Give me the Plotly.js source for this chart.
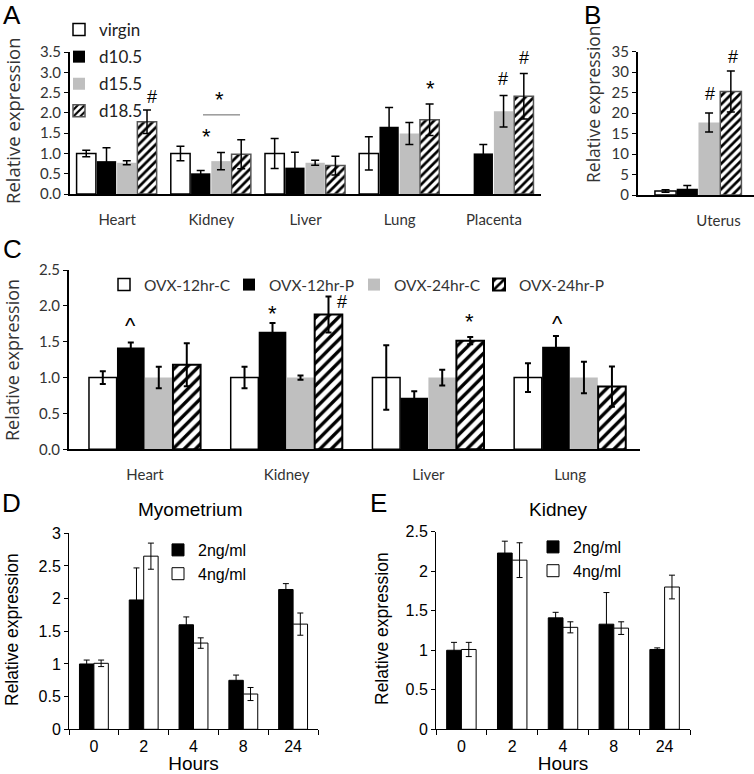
<!DOCTYPE html>
<html><head><meta charset="utf-8">
<script src="https://cdn.plot.ly/plotly-3.0.1.min.js"></script>
<style>html,body{margin:0;padding:0;background:#fff}#chart{width:754px;height:774px}</style>
</head><body><div id="chart"></div>
<script>
// ---------- Panel A ----------
const catsA = ['Heart', 'Kidney', 'Liver', 'Lung', 'Placenta'];
const virginA = [1.0, 1.0, 1.0, 1.0, null];
const virginErrA = [0.08, 0.18, 0.37, 0.41, null];
const d105A = [0.81, 0.51, 0.65, 1.66, 1.0];
const d105ErrA = [0.33, 0.07, 0.38, 0.47, 0.22];
const d155A = [0.77, 0.81, 0.77, 1.49, 2.04];
const d155ErrA = [0.05, 0.21, 0.06, 0.27, 0.39];
const d185A = [1.78, 0.98, 0.70, 1.83, 2.41];
const d185ErrA = [0.29, 0.36, 0.23, 0.39, 0.56];
const seriesA = ['virgin', 'd10.5', 'd15.5', 'd18.5'];

// ---------- Panel B ----------
const catsB = ['Uterus'];
const virginB = [1.0];
const virginErrB = [0.3];
const d105B = [1.5];
const d105ErrB = [0.8];
const d155B = [17.7];
const d155ErrB = [2.3];
const d185B = [25.3];
const d185ErrB = [5.0];

// ---------- Panel C ----------
const catsC = ['Heart', 'Kidney', 'Liver', 'Lung'];
const seriesC = ['OVX-12hr-C', 'OVX-12hr-P', 'OVX-24hr-C', 'OVX-24hr-P'];
const c12C = [1.0, 1.0, 1.0, 1.0];
const c12ErrC = [0.09, 0.15, 0.45, 0.2];
const p12C = [1.42, 1.64, 0.72, 1.43];
const p12ErrC = [0.07, 0.12, 0.09, 0.15];
const c24C = [1.0, 1.0, 1.0, 1.0];
const c24ErrC = [0.15, 0.03, 0.11, 0.22];
const p24C = [1.18, 1.88, 1.515, 0.875];
const p24ErrC = [0.3, 0.25, 0.05, 0.28];

// ---------- Panels D / E ----------
const hours = ['0', '2', '4', '8', '24'];
const seriesDE = ['2ng/ml', '4ng/ml'];
const twoD = [1.0, 1.98, 1.6, 0.75, 2.14];
const twoErrD = [0.06, 0.49, 0.12, 0.08, 0.09];
const fourD = [1.01, 2.65, 1.32, 0.54, 1.61];
const fourErrD = [0.05, 0.2, 0.08, 0.1, 0.17];
const twoE = [1.0, 2.23, 1.41, 1.33, 1.01];
const twoErrE = [0.1, 0.15, 0.07, 0.4, 0.02];
const fourE = [1.01, 2.14, 1.29, 1.28, 1.8];
const fourErrE = [0.09, 0.22, 0.07, 0.08, 0.15];

// ---------- helpers ----------
const W = 754, H = 774;
const fx = v => v / W;
const fy = v => 1 - v / H;
const TICKF = 'Lato, Carlito, sans-serif';
const TITLEF = '"Open Sans", "Noto Sans", sans-serif';
const ARIAL = '"Liberation Sans", Arial, sans-serif';
function err(arr, th, w) {
  return {type: 'data', array: arr, visible: true, color: '#000', thickness: th, width: w};
}
const hatchA = {shape: '/', fgcolor: '#000', bgcolor: '#fff', size: 6, solidity: 0.45};
const hatchC = {shape: '/', fgcolor: '#000', bgcolor: '#fff', size: 8, solidity: 0.42};

function bar(x, y, e, name, ax, w, off, marker, eth, ew, legend, show, grp) {
  return {type: 'bar', x: x, y: y, name: name, xaxis: 'x' + ax, yaxis: 'y' + ax,
    width: w, offset: off, marker: marker, error_y: err(e, eth, ew),
    legend: legend, legendgroup: grp || '', showlegend: show, hoverinfo: 'x+y+name'};
}
const mWhite = {color: '#fff', line: {color: '#000', width: 1.5}};
const mBlack = {color: '#000', line: {color: '#000', width: 0}};
const mGray = {color: '#bfbfbf', line: {color: '#bfbfbf', width: 0}};
const mHatchA = {color: '#fff', pattern: hatchA, line: {color: '#555', width: 1.5}};
const mHatchC = {color: '#fff', pattern: hatchC, line: {color: '#000', width: 2}};

const data = [];
// A
const wA = 0.205, sA = 0.215, oA = -0.43;
[[virginA, virginErrA, mWhite], [d105A, d105ErrA, mBlack], [d155A, d155ErrA, mGray], [d185A, d185ErrA, mHatchA]]
  .forEach((s, i) => data.push(bar(catsA, s[0], s[1], seriesA[i], '', wA, oA + i * sA, s[2], 1.5, 4, 'legend', true, 'a' + i)));
// B
const wB = 0.175, sB = 0.18, oB = -0.36;
[[virginB, virginErrB, mWhite], [d105B, d105ErrB, mBlack], [d155B, d155ErrB, mGray], [d185B, d185ErrB, mHatchA]]
  .forEach((s, i) => data.push(bar(catsB, s[0], s[1], seriesA[i], '2', wB, oB + i * sB, s[2], 1.5, 4, 'legend', false, 'a' + i)));
// C
const wC = 0.195, sC = 0.1975, oC = -0.395;
[[c12C, c12ErrC, mWhite], [p12C, p12ErrC, mBlack], [c24C, c24ErrC, mGray], [p24C, p24ErrC, mHatchC]]
  .forEach((s, i) => data.push(bar(catsC, s[0], s[1], seriesC[i], '3', wC, oC + i * sC, s[2], 2, 3, 'legend2', true)));
// D, E
const mWhiteThin = {color: '#fff', line: {color: '#000', width: 1}};
const mBlackThin = {color: '#000', line: {color: '#000', width: 1}};
data.push(bar(hours, twoD, twoErrD, seriesDE[0], '4', 0.29, -0.29, mBlackThin, 1, 3, 'legend3', true));
data.push(bar(hours, fourD, fourErrD, seriesDE[1], '4', 0.29, 0, mWhiteThin, 1, 3, 'legend3', true));
data.push(bar(hours, twoE, twoErrE, seriesDE[0], '5', 0.29, -0.29, mBlackThin, 1, 3, 'legend4', true));
data.push(bar(hours, fourE, fourErrE, seriesDE[1], '5', 0.29, 0, mWhiteThin, 1, 3, 'legend4', true));

function yax(anchor, dom, range, dtick, fmt, font, lw) {
  return {anchor: anchor, domain: dom, range: range, dtick: dtick, tickformat: fmt, showgrid: false, zeroline: false,
    showline: true, linecolor: '#000', linewidth: lw, ticks: 'outside', ticklen: 4, tickwidth: 1, tickcolor: '#000',
    tickfont: font, fixedrange: true};
}
function xcat(dom, range, anchor, font, standoff, lw, extra) {
  return Object.assign({domain: dom, range: range, type: 'category', anchor: anchor, showgrid: false, zeroline: false,
    showline: true, linecolor: '#000', linewidth: lw, ticks: '', tickfont: font, ticklabelstandoff: standoff,
    fixedrange: true}, extra || {});
}
const fontAC = {family: TICKF, size: 15, color: '#333'};
const fontDE = {family: ARIAL, size: 16, color: '#000'};
const titleDE = {family: ARIAL, size: 17.5, color: '#000'};
const hoursT = {family: ARIAL, size: 19, color: '#000'};
const deX = {ticks: 'outside', tickson: 'boundaries', ticklen: 5, tickcolor: '#000', tickwidth: 1};

function leg(x, y, xa, ya, font, extra) {
  return Object.assign({x: x, y: y, xref: 'container', yref: 'container', xanchor: xa, yanchor: ya,
    bgcolor: 'rgba(0,0,0,0)', font: font, itemclick: false, itemdoubleclick: false}, extra || {});
}

const layout = {
  width: W, height: H, margin: {l: 0, r: 0, t: 0, b: 0, autoexpand: false}, paper_bgcolor: '#fff', plot_bgcolor: 'rgba(0,0,0,0)',
  barmode: 'overlay', showlegend: true,
  xaxis: xcat([fx(70), fx(541)], [-0.5, 4.5], 'y', fontAC, 11, 2),
  yaxis: yax('x', [fy(194), fy(52)], [0, 3.5], 0.5, '.1f', fontAC, 2),
  xaxis2: xcat([fx(638), 1], [-0.5, 0.459], 'y2', fontAC, 11, 2, {ticklabelshift: 20}),
  yaxis2: yax('x2', [fy(195), fy(51.7)], [0, 35], 5, 'd', fontAC, 2),
  xaxis3: xcat([fx(69), fx(640)], [-0.536, 3.493], 'y3', fontAC, 11, 2),
  yaxis3: yax('x3', [fy(449.3), fy(270)], [0, 2.5], 0.5, '.1f', fontAC, 2),
  xaxis4: xcat([fx(69), fx(318)], [-0.5, 4.5], 'y4', fontDE, 2, 1, Object.assign({title: {text: 'Hours', font: hoursT, standoff: 2}}, deX)),
  yaxis4: yax('x4', [fy(729.3), fy(533.3)], [0, 3], 0.5, '', fontDE, 1),
  xaxis5: xcat([fx(436), fx(690)], [-0.5, 4.5], 'y5', fontDE, 2, 1, Object.assign({title: {text: 'Hours', font: hoursT, standoff: 2}}, deX)),
  yaxis5: yax('x5', [fy(729.3), fy(531.7)], [0, 2.5], 0.5, '', fontDE, 1),
  legend: leg(fx(59), fy(12), 'left', 'top', {family: TICKF, size: 17, color: '#222'}, {traceorder: 'grouped', tracegroupgap: 2}),
  legend2: leg(fx(104), fy(285), 'left', 'middle', {family: TICKF, size: 15.5, color: '#333'},
    {orientation: 'h', entrywidth: 80, entrywidthmode: 'pixels'}),
  legend3: leg(fx(158), fy(533), 'left', 'top', {family: ARIAL, size: 16, color: '#000'}, {tracegroupgap: 0}),
  legend4: leg(fx(533), fy(530), 'left', 'top', {family: ARIAL, size: 16, color: '#000'}, {tracegroupgap: 0}),
  shapes: [
    {type: 'line', xref: 'x', yref: 'y', x0: 0.912, x1: 1.305, y0: 1.95, y1: 1.95, line: {color: '#666', width: 1}}
  ],
  annotations: []
};

function note(text, x, y, ax, size, fam) {
  layout.annotations.push({text: text, x: x, y: y, xref: 'x' + ax, yref: 'y' + ax, showarrow: false,
    font: {family: fam || '"Liberation Sans", Arial, sans-serif', size: size || 18, color: '#000'}});
}
// Panel A significance marks
note('#', 0.37, 2.40, '', 18);
note('*', 1.09, 2.32, '', 22);
note('*', 0.954, 1.41, '', 22);
note('*', 3.33, 2.60, '', 22);
note('#', 4.10, 2.83, '', 18);
note('#', 4.32, 3.34, '', 18);
// Panel B
note('#', 0.095, 24.6, '2', 18);
note('#', 0.288, 33.8, '2', 18);
// Panel C
note('^', -0.099, 1.73, '3', 22);
note('*', 0.903, 1.90, '3', 22);
note('#', 1.388, 2.05, '3', 18);
note('*', 2.29, 1.78, '3', 22);
note('^', 2.91, 1.76, '3', 22);

function paperText(text, x, y, font, angle) {
  layout.annotations.push({text: text, x: fx(x), y: fy(y), xref: 'paper', yref: 'paper', showarrow: false,
    xanchor: 'center', yanchor: 'middle', textangle: angle || 0, font: font});
}
const letterF = {family: ARIAL, size: 26, color: '#000'};
paperText('A', 12, 15, letterF);
paperText('B', 592, 15, letterF);
paperText('C', 12, 249, letterF);
paperText('D', 11, 503, letterF);
paperText('E', 378, 503, letterF);
paperText('Myometrium', 190.5, 509, {family: ARIAL, size: 19, color: '#000'});
paperText('Kidney', 558, 509, {family: ARIAL, size: 19, color: '#000'});
// y-axis titles
paperText('Relative expression', 13, 121, {family: TITLEF, size: 18.5, color: '#333'}, -90);
paperText('Relative expression', 593, 104, {family: TITLEF, size: 17.5, color: '#333'}, -90);
paperText('Relative expression', 12, 360, {family: TITLEF, size: 18, color: '#333'}, -90);
paperText('Relative expression', 12, 630, titleDE, -90);
paperText('Relative expression', 382, 628, titleDE, -90);

Plotly.newPlot('chart', data, layout, {displayModeBar: false, staticPlot: true});
</script>
</body></html>
